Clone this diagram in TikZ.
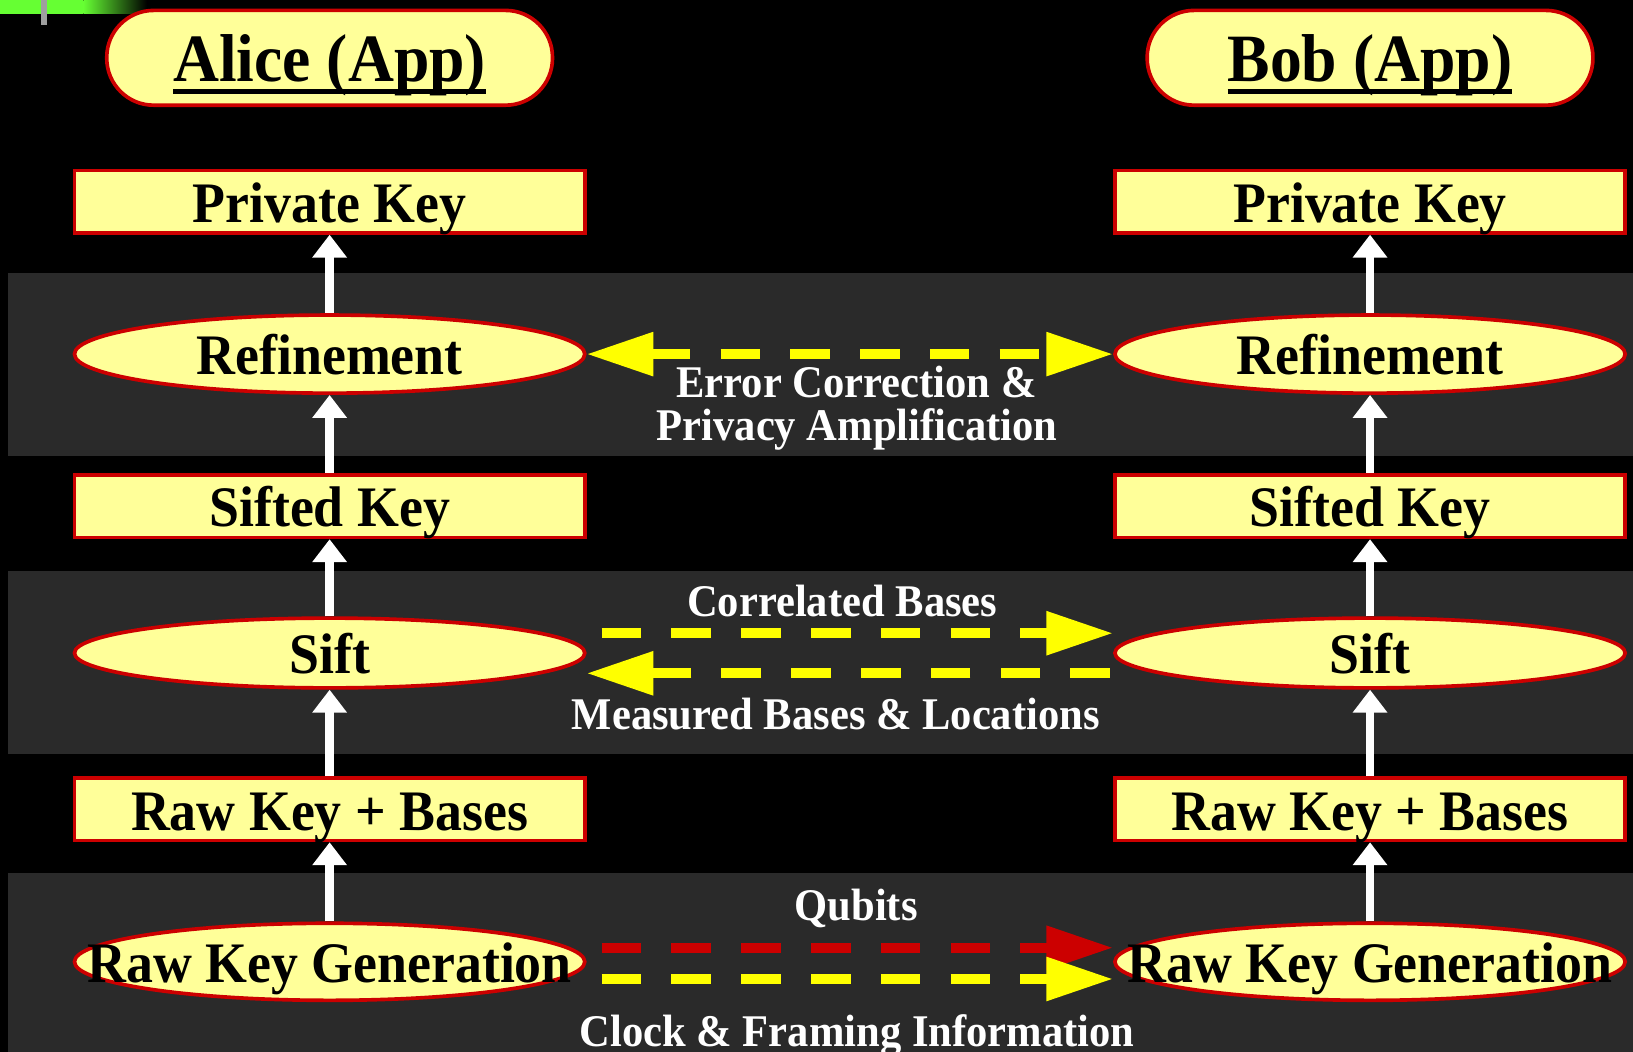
\documentclass[tikz,border=0pt]{standalone}
\usepackage{fontspec}
\setmainfont{Liberation Serif}[FakeStretch=0.94]
\usetikzlibrary{arrows.meta,shapes.geometric}

\definecolor{paleyellow}{HTML}{FFFF99}
\definecolor{boxred}{HTML}{CC0000}
\definecolor{bandgray}{HTML}{2A2A2A}
\definecolor{flowyellow}{HTML}{FFFF00}
\definecolor{slidegreen}{HTML}{66FF33}

% underlined title text with a heavy rule below the baseline
\newcommand\heavyul[1]{\setbox0\hbox{#1}\rlap{\copy0}\rule[-12pt]{\wd0}{5pt}}
% zero-width text so the ellipse keeps its own size
\newcommand\nowidth[1]{\makebox[0pt]{#1}}

\tikzset{
  partybox/.style={rectangle, rounded corners=45pt, draw=boxred, fill=paleyellow,
    line width=3.5pt, minimum width=428pt, minimum height=91pt, inner sep=0pt,
    text height=45pt, text depth=0pt, font=\fontsize{65}{70}\selectfont\bfseries},
  keybox/.style={rectangle, draw=boxred, fill=paleyellow, line width=3.5pt,
    minimum width=490pt, minimum height=60pt, inner sep=0pt,
    text height=40pt, text depth=0pt, font=\fontsize{55}{60}\selectfont\bfseries},
  stagebox/.style={ellipse, draw=boxred, fill=paleyellow, line width=3.5pt,
    minimum width=490pt, inner sep=0pt,
    text height=40pt, text depth=0pt, font=\fontsize{55}{60}\selectfont\bfseries},
  lab/.style={text=white, inner sep=0pt, anchor=base,
    font=\fontsize{43.5}{48}\selectfont\bfseries},
  upflow/.style={draw=white, line width=8pt, -{Triangle[length=22pt,width=32pt]}},
  sideflow/.style={line width=9.6pt, dash pattern=on 38pt off 29pt},
  sidetip/.tip={Triangle[length=64pt,width=40pt]},
}

\begin{document}
\begin{tikzpicture}[x=1pt, y=-1pt]
  \useasboundingbox (0,0) rectangle (1568,1010);
  \clip (0,0) rectangle (1568,1010);
  \fill[black] (0,0) rectangle (1568,1010);

  % corner ornament
  \fill[slidegreen] (0,0) rectangle (80,13.8);
  \shade[left color=slidegreen, right color=black] (80,0) rectangle (141,12.5);
  \fill[gray!75] (39.5,0) rectangle (45,24);

  % protocol layer bands
  \fill[bandgray] (8,262) rectangle (1568,438);
  \fill[bandgray] (8,548) rectangle (1568,724);
  \fill[bandgray] (8,838) rectangle (1568,1010);

  % Alice column
  \node[partybox] (atitle) at (316.5,55.5) {\heavyul{Alice (App)}};
  \node[keybox] (apriv) at (316.5,193.6) {Private Key};
  \node[stagebox, minimum height=75pt] (arefine) at (316.5,340) {\nowidth{Refinement}};
  \node[keybox] (asifted) at (316.5,486) {Sifted Key};
  \node[stagebox, minimum height=67pt] (asift) at (316.5,627) {\nowidth{Sift}};
  \node[keybox] (arawkb) at (316.5,777) {Raw Key + Bases};
  \node[stagebox, minimum height=74pt] (arawgen) at (316.5,923.5) {\nowidth{Raw Key Generation}};

  % Bob column
  \node[partybox] (btitle) at (1315.5,55.5) {\heavyul{Bob (App)}};
  \node[keybox] (bpriv) at (1315.5,193.6) {Private Key};
  \node[stagebox, minimum height=75pt] (brefine) at (1315.5,340) {\nowidth{Refinement}};
  \node[keybox] (bsifted) at (1315.5,486) {Sifted Key};
  \node[stagebox, minimum height=67pt] (bsift) at (1315.5,627) {\nowidth{Sift}};
  \node[keybox] (brawkb) at (1315.5,777) {Raw Key + Bases};
  \node[stagebox, minimum height=74pt] (brawgen) at (1315.5,923.5) {\nowidth{Raw Key Generation}};

  % upward processing arrows
  \foreach \s in {a,b} {
    \draw[upflow] (\s rawgen.north) -- (\s rawkb.south);
    \draw[upflow] (\s rawkb.north) -- (\s sift.south);
    \draw[upflow] (\s sift.north) -- (\s sifted.south);
    \draw[upflow] (\s sifted.north) -- (\s refine.south);
    \draw[upflow] (\s refine.north) -- (\s priv.south);
  }

  % refinement exchange
  \draw[sideflow, draw=flowyellow, sidetip-sidetip]
    (arefine.east) -- (brefine.west);
  \node[lab] (ecorr) at (822.5,382) {Error Correction \&};
  \node[lab] (pamp) at (823,423) {Privacy Amplification};

  % sifting exchange
  \draw[sideflow, draw=flowyellow, -sidetip]
    ([xshift=14.5pt,yshift=19pt]asift.east) -- ([yshift=19pt]bsift.west);
  \draw[sideflow, draw=flowyellow, -sidetip]
    ([xshift=-3pt,yshift=-19.5pt]bsift.west) -- ([yshift=-19.5pt]asift.east);
  \node[lab] (corr) at (808.7,592) {Correlated Bases};
  \node[lab] (meas) at (802.6,700.5) {Measured Bases \& Locations};

  % quantum and timing channels
  \draw[sideflow, draw=boxred, -sidetip]
    ([xshift=14.5pt,yshift=13.5pt]arawgen.east) -- ([yshift=13.5pt]brawgen.west);
  \draw[sideflow, draw=flowyellow, -sidetip]
    ([xshift=14.5pt,yshift=-16.5pt]arawgen.east) -- ([yshift=-16.5pt]brawgen.west);
  \node[lab] (qubits) at (822,884) {Qubits};
  \node[lab] (clock) at (823,1005) {Clock \& Framing Information};
\end{tikzpicture}
\end{document}
